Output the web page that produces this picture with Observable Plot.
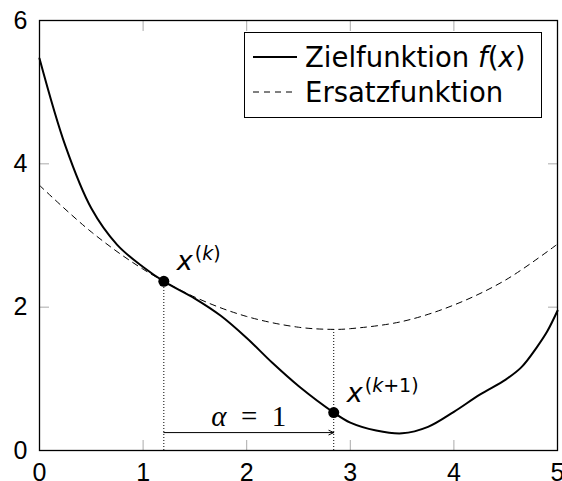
<!DOCTYPE html>
<html>
<head>
<meta charset="utf-8">
<script src="https://cdn.jsdelivr.net/npm/d3@7"></script>
<script src="https://cdn.jsdelivr.net/npm/@observablehq/plot@0.6"></script>
<style>
  html, body { margin: 0; padding: 0; background: white; }
  #wrap { position: relative; width: 562px; height: 481px; overflow: hidden; }
  #legend { position: absolute; left: 244px; top: 32px; width: 296px; height: 84px;
    border: 1.3px solid black; background: white; font-family: "DejaVu Sans", sans-serif; font-size: 27.5px; }
  .row { position: absolute; left: 0; height: 32px; display: flex; align-items: center; white-space: nowrap; }
  .row svg { margin-left: 8px; margin-right: 8px; }
</style>
</head>
<body>
<div id="wrap"></div>
<script>
// ---- data ----
const fX = [0, 0.25, 0.5, 0.75, 1.0, 1.2, 1.5, 1.75, 2.0, 2.25, 2.5, 2.84, 3.0, 3.25, 3.5, 3.75, 4.0, 4.25, 4.5, 4.65, 4.8, 4.9, 5.0];
const fY = [5.47, 4.25, 3.38, 2.87, 2.56, 2.36, 2.12, 1.88, 1.57, 1.22, 0.9, 0.53, 0.39, 0.28, 0.24, 0.33, 0.54, 0.78, 0.99, 1.16, 1.44, 1.66, 1.95];
const qX = [0, 0.5, 1.0, 1.5, 2.0, 2.5, 2.84, 3.0, 3.5, 4.0, 4.5, 5.0];
const qY = [3.70, 3.05, 2.53, 2.14, 1.87, 1.72, 1.69, 1.70, 1.80, 2.03, 2.38, 2.88];
const iterX = [1.2, 2.84];
const iterY = [2.36, 0.53];
const dropTop = [2.36, 1.69];
const iterBase = ["x", "x"];
const iterSup = ["(k)", "(k+1)"];
const stepY = 0.25;
const stepLabel = "α\u2002=\u20021";
const xTicks = [0, 1, 2, 3, 4, 5];
const yTicks = [0, 2, 4, 6];
const xMinor = [1, 2, 3, 4];
const yMinor = [2, 4];
const seriesNames = ["Zielfunktion", "Ersatzfunktion"];

const fData = fX.map((x, i) => ({x, y: fY[i]}));
const qData = qX.map((x, i) => ({x, y: qY[i]}));
const iters = iterX.map((x, i) => ({x, y: iterY[i], top: dropTop[i], base: iterBase[i], sup: iterSup[i]}));
const step = [{x1: iterX[0], x2: iterX[1], y: stepY, mid: (iterX[0] + iterX[1]) / 2, label: stepLabel}];

const chart = Plot.plot({
  width: 562, height: 481,
  marginLeft: 39, marginRight: 5, marginTop: 20, marginBottom: 31,
  x: {domain: [0, 5]},
  y: {domain: [0, 6]},
  style: {fontFamily: "Liberation Sans", fontSize: "25px", background: "white", overflow: "visible"},
  marks: [
    Plot.axisX({ticks: xTicks, tickSize: 0, tickPadding: 13, label: null, fontSize: 25, tickFormat: d => String(d)}),
    Plot.axisY({ticks: yTicks, tickSize: 0, tickPadding: 12, label: null, fontSize: 25, tickFormat: d => String(d)}),
    Plot.axisX({anchor: "bottom", ticks: xMinor, tickSize: -10, stroke: "#aaa", tickFormat: () => "", label: null}),
    Plot.axisX({anchor: "top", ticks: xMinor, tickSize: -10, stroke: "#aaa", tickFormat: () => "", label: null}),
    Plot.axisY({anchor: "left", ticks: yMinor, tickSize: -10, stroke: "#aaa", tickFormat: () => "", label: null}),
    Plot.axisY({anchor: "right", ticks: yMinor, tickSize: -10, stroke: "#aaa", tickFormat: () => "", label: null}),
    Plot.ruleX(iters, {x: "x", y1: 0, y2: "top", stroke: "black", strokeWidth: 1, strokeDasharray: "1,2"}),
    Plot.line(qData, {x: "x", y: "y", curve: "catmull-rom", stroke: "black", strokeWidth: 1, strokeDasharray: "6,5"}),
    Plot.line(fData, {x: "x", y: "y", curve: "catmull-rom", stroke: "black", strokeWidth: 2}),
    Plot.arrow(step, {x1: "x1", x2: "x2", y1: "y", y2: "y", stroke: "black", strokeWidth: 1, headLength: 8, headAngle: 50}),
    Plot.text(step, {x: "mid", y: "y", text: "label", dy: -7, lineAnchor: "bottom", fontFamily: "Liberation Serif", fontSize: 29}),
    Plot.dot(iters, {x: "x", y: "y", r: 5.5, fill: "black", stroke: "none"}),
    Plot.text(iters, {x: "x", y: "y", text: "base", dx: 13, dy: -11, textAnchor: "start", lineAnchor: "bottom", fontSize: 27, fontStyle: "italic", fontFamily: "DejaVu Sans"}),
    Plot.text(iters, {x: "x", y: "y", text: "sup", dx: 31, dy: -21, textAnchor: "start", lineAnchor: "bottom", fontSize: 19, fontFamily: "DejaVu Sans"}),
    Plot.frame({stroke: "black", strokeWidth: 1.3})
  ]
});

const NS = "http://www.w3.org/2000/svg";
function styled(t, parts) {
  t.textContent = "";
  for (const [s, italic] of parts) {
    const sp = document.createElementNS(NS, "tspan");
    if (italic) sp.setAttribute("font-style", "italic");
    sp.textContent = s;
    t.appendChild(sp);
  }
}
chart.querySelectorAll("text").forEach(t => {
  const s = t.textContent;
  if (s === stepLabel) styled(t, [[s[0], true], [s.slice(1), false]]);
  else if (iterSup.includes(s)) {
    const i = s.indexOf("k");
    styled(t, [[s.slice(0, i), false], ["k", true], [s.slice(i + 1), false]]);
  }
});

const wrap = document.getElementById("wrap");
wrap.appendChild(chart);

const legend = document.createElement("div");
legend.id = "legend";
legend.innerHTML = `
  <div class="row" style="top:8px">
    <svg width="44" height="4"><line x1="0" x2="44" y1="2" y2="2" stroke="black" stroke-width="2"/></svg>
    <span>${seriesNames[0]} <i>f</i>(<i>x</i>)</span>
  </div>
  <div class="row" style="top:43px">
    <svg width="44" height="4"><line x1="0" x2="44" y1="2" y2="2" stroke="black" stroke-width="1" stroke-dasharray="6,5"/></svg>
    <span>${seriesNames[1]}</span>
  </div>`;
wrap.appendChild(legend);
</script>
</body>
</html>
